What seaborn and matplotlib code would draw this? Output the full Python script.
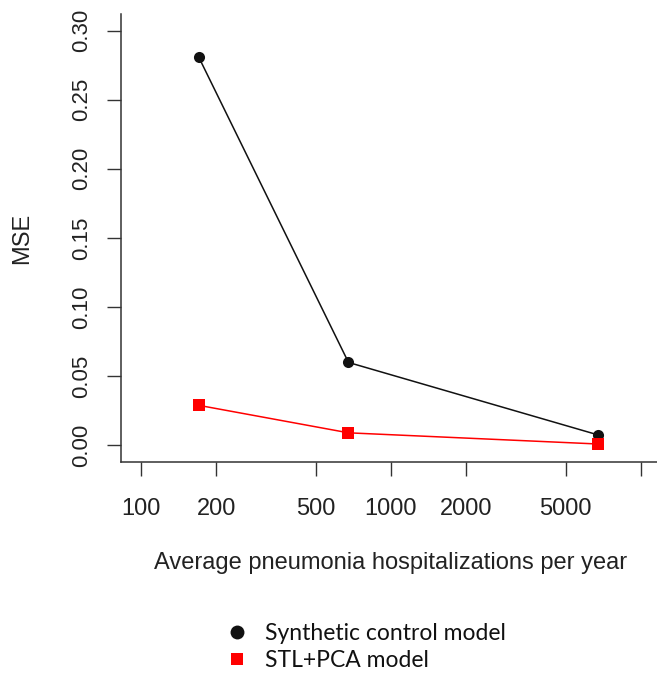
import pandas as pd
import seaborn as sns
import matplotlib.pyplot as plt
from matplotlib.lines import Line2D

# values
hospitalizations = [170, 676, 6760]
synthetic_mse = [0.281, 0.060, 0.0075]
stl_pca_mse = [0.029, 0.0091, 0.001]
models = ["Synthetic control model", "STL+PCA model"]
x_ticks = [100, 200, 500, 1000, 2000, 5000, 10000]
x_tick_labels = ["100", "200", "500", "1000", "2000", "5000", ""]
y_ticks = [0.00, 0.05, 0.10, 0.15, 0.20, 0.25, 0.30]

df = pd.DataFrame({
    "hosp": hospitalizations * 2,
    "mse": synthetic_mse + stl_pca_mse,
    "model": [models[0]] * 3 + [models[1]] * 3,
})

sns.set_theme(style="ticks")
plt.rcParams["font.family"] = ["Liberation Sans", "DejaVu Sans"]

colors = {models[0]: "#111111", models[1]: "#ff0000"}
markers = {models[0]: "o", models[1]: "s"}

fig = plt.figure(figsize=(6.57, 6.74), dpi=100)
ax = fig.add_axes([121 / 657, 1 - 462 / 674, 540 / 657, 448 / 674])

sns.lineplot(data=df, x="hosp", y="mse", hue="model", style="model",
             palette=colors, markers=markers, dashes=False,
             markersize=8, markeredgewidth=0, linewidth=1.1,
             legend=False, ax=ax)

ax.set_xscale("log")
ax.set_xlim(10 ** 1.92, 10 ** 4.08)
ax.set_ylim(-0.012, 0.312)
ax.set_xticks(x_ticks)
ax.set_xticklabels(x_tick_labels)
ax.minorticks_off()
ax.set_yticks(y_ticks)
ax.set_yticklabels([f"{v:.2f}" for v in y_ticks], rotation=90, va="center")

for side in ["top", "right"]:
    ax.spines[side].set_visible(False)
for side in ["left", "bottom"]:
    ax.spines[side].set_color("#333333")
    ax.spines[side].set_linewidth(1.1)

ax.tick_params(axis="both", length=10, width=1.0, color="#333333",
               labelcolor="#222222")
ax.tick_params(axis="x", pad=16, labelsize=17)
ax.tick_params(axis="y", pad=11, labelsize=16)

ax.set_xlabel("Average pneumonia hospitalizations per year", fontsize=17,
              color="#222222", va="center")
ax.xaxis.set_label_coords(0.5, (462 - 563) / 448)
ax.set_ylabel("MSE", fontsize=17, color="#222222", va="center")
ax.yaxis.set_label_coords((22 - 121) / 540, 0.5)

handles = [Line2D([], [], linestyle="none", marker=markers[m], color=colors[m],
                  markersize=10 if m == models[0] else 9, markeredgewidth=0)
           for m in models]
fig.legend(handles, models, loc="center left",
           bbox_to_anchor=(227 / 657, 1 - 647 / 674), frameon=False,
           prop={"family": ["Lato", "DejaVu Sans"], "size": 16.5},
           handlelength=0.9, handletextpad=0.75, labelspacing=0.3,
           borderpad=0, borderaxespad=0, labelcolor="#111111")

fig.savefig("out.png", dpi=100)
